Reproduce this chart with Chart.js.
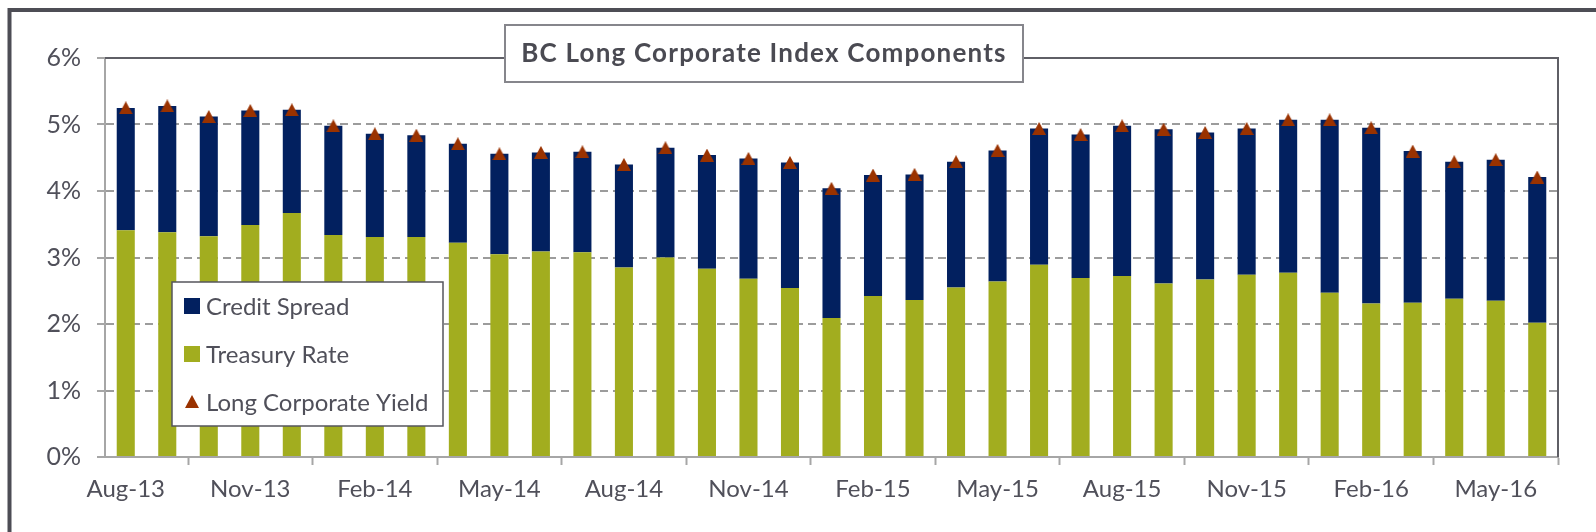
<!DOCTYPE html>
<html>
<head>
<meta charset="utf-8">
<script src="https://cdn.jsdelivr.net/npm/chart.js@4"></script>
<style>
  html, body { margin: 0; padding: 0; background: #fff; }
  #wrap { width: 1596px; height: 532px; }
</style>
</head>
<body>
<div id="wrap"><canvas id="chart" width="1596" height="532"></canvas></div>
<script>
const months = [
  "Aug-13", "Sep-13", "Oct-13", "Nov-13", "Dec-13", "Jan-14", "Feb-14", "Mar-14", "Apr-14",
  "May-14", "Jun-14", "Jul-14", "Aug-14", "Sep-14", "Oct-14", "Nov-14", "Dec-14", "Jan-15",
  "Feb-15", "Mar-15", "Apr-15", "May-15", "Jun-15", "Jul-15", "Aug-15", "Sep-15", "Oct-15",
  "Nov-15", "Dec-15", "Jan-16", "Feb-16", "Mar-16", "Apr-16", "May-16", "Jun-16"
];
const treasuryRate = [
  3.41, 3.38, 3.32, 3.49, 3.67, 3.34, 3.31, 3.31, 3.22,
  3.05, 3.09, 3.08, 2.85, 3.00, 2.83, 2.68, 2.54, 2.09,
  2.42, 2.36, 2.55, 2.64, 2.89, 2.69, 2.72, 2.61, 2.67,
  2.74, 2.77, 2.47, 2.31, 2.32, 2.38, 2.35, 2.02
];
const creditSpread = [
  1.84, 1.90, 1.80, 1.72, 1.55, 1.64, 1.55, 1.53, 1.49,
  1.51, 1.49, 1.51, 1.55, 1.65, 1.71, 1.81, 1.89, 1.95,
  1.82, 1.89, 1.89, 1.97, 2.05, 2.16, 2.26, 2.32, 2.21,
  2.20, 2.30, 2.60, 2.64, 2.28, 2.06, 2.12, 2.19
];
const corpYield = [
  5.25, 5.28, 5.12, 5.21, 5.22, 4.98, 4.86, 4.84, 4.71,
  4.56, 4.58, 4.59, 4.40, 4.65, 4.54, 4.49, 4.43, 4.04,
  4.24, 4.25, 4.44, 4.61, 4.94, 4.85, 4.98, 4.93, 4.88,
  4.94, 5.07, 5.07, 4.95, 4.60, 4.44, 4.47, 4.21
];
const yTicks = [0, 1, 2, 3, 4, 5, 6];
const chartTitle = "BC Long Corporate Index Components";

const NAVY = "#02205f";
const OLIVE = "#a2ad1f";
const BROWN = "#9a3200";
const TEXT = "#50505a";
const FONT = "Lato";

// triangle marker, centred on its box like Excel does
function triangle(w, h, color) {
  const cv = document.createElement("canvas");
  cv.width = w; cv.height = h;
  const c = cv.getContext("2d");
  c.fillStyle = color;
  c.beginPath();
  c.moveTo(w / 2, 0);
  c.lineTo(w, h);
  c.lineTo(0, h);
  c.closePath();
  c.fill();
  return cv;
}
const tri = triangle(14, 13, BROWN);

// white page, outer frame, plot border, title box and legend box
const decor = {
  id: "decor",
  beforeDraw(chart) {
    const c = chart.ctx;
    c.save();
    c.fillStyle = "#fff";
    c.fillRect(0, 0, chart.width, chart.height);
    c.strokeStyle = "#4d4d55";
    c.lineWidth = 4;
    c.strokeRect(9.5, 10, 1800, 800);
    c.restore();
  },
  afterDraw(chart) {
    const c = chart.ctx;
    const a = chart.chartArea;
    c.save();
    // top and right plot border
    c.strokeStyle = "#5f5f66";
    c.lineWidth = 2;
    c.beginPath();
    c.moveTo(a.left, a.top);
    c.lineTo(a.right, a.top);
    c.lineTo(a.right, a.bottom);
    c.stroke();

    // title box
    c.fillStyle = "#fff";
    c.fillRect(505, 25, 518, 57);
    c.strokeStyle = "#86868c";
    c.lineWidth = 2;
    c.strokeRect(505, 25, 518, 57);
    c.fillStyle = "#4a4a52";
    c.font = "bold 26px " + FONT;
    c.letterSpacing = "1.2px";
    c.textAlign = "center";
    c.textBaseline = "middle";
    c.fillText(chartTitle, 764, 54);
    c.letterSpacing = "0px";

    // legend box
    c.fillStyle = "#fff";
    c.fillRect(172, 282, 271, 144);
    c.strokeStyle = "#55555c";
    c.lineWidth = 1.5;
    c.strokeRect(172, 282, 271, 144);
    const ds = chart.data.datasets;
    const rows = [ds[1], ds[0], ds[2]];
    c.font = "24px " + FONT;
    c.textAlign = "left";
    rows.forEach((d, i) => {
      const cy = 306 + i * 48;
      if (d.type === "line") {
        c.drawImage(tri, 185, cy - 7);
      } else {
        c.fillStyle = d.backgroundColor;
        c.fillRect(184, cy - 8, 16, 16);
      }
      c.fillStyle = TEXT;
      c.fillText(d.label, 206, cy + 1);
    });
    c.restore();
  }
};

new Chart(document.getElementById("chart"), {
  type: "bar",
  data: {
    labels: months,
    datasets: [
      {
        label: "Treasury Rate",
        data: treasuryRate,
        backgroundColor: OLIVE,
        borderWidth: 0,
        stack: "bars",
        order: 1
      },
      {
        label: "Credit Spread",
        data: creditSpread,
        backgroundColor: NAVY,
        borderWidth: 0,
        stack: "bars",
        order: 1
      },
      {
        type: "line",
        label: "Long Corporate Yield",
        data: corpYield,
        showLine: false,
        pointStyle: tri,
        pointRadius: 7,
        pointBackgroundColor: BROWN,
        pointBorderColor: BROWN,
        stack: "yield",
        order: 0
      }
    ]
  },
  options: {
    responsive: false,
    animation: false,
    layout: { padding: { left: 0, right: 38, top: 58, bottom: 0 } },
    datasets: {
      bar: { categoryPercentage: 1, barPercentage: 0.435 }
    },
    plugins: {
      legend: { display: false },
      title: { display: false },
      tooltip: { enabled: false }
    },
    scales: {
      x: {
        stacked: true,
        offset: true,
        afterFit(s) { s.height = 75; },
        grid: {
          offset: true,
          drawOnChartArea: false,
          drawTicks: true,
          tickLength: 8,
          tickWidth: 2,
          tickColor: "#a6a6a6"
        },
        border: { color: "#a6a6a6", width: 2 },
        ticks: {
          autoSkip: false,
          maxRotation: 0,
          padding: 10,
          color: TEXT,
          font: { family: FONT, size: 24 },
          callback(v, i) { return i % 3 === 0 ? months[i] : null; }
        }
      },
      y: {
        stacked: true,
        min: 0,
        max: 6,
        afterFit(s) { s.width = 105; },
        afterBuildTicks(s) { s.ticks = yTicks.map(v => ({ value: v })); },
        grid: {
          color: "#9c9c9c",
          lineWidth: 2,
          tickLength: 8,
          tickColor: "#a6a6a6",
          tickBorderDash: []
        },
        border: { color: "#a6a6a6", width: 2, dash: [8, 5] },
        ticks: {
          padding: 16,
          color: TEXT,
          font: { family: FONT, size: 25 },
          callback(v) { return v + "%"; }
        }
      }
    }
  },
  plugins: [decor]
});
</script>
</body>
</html>
